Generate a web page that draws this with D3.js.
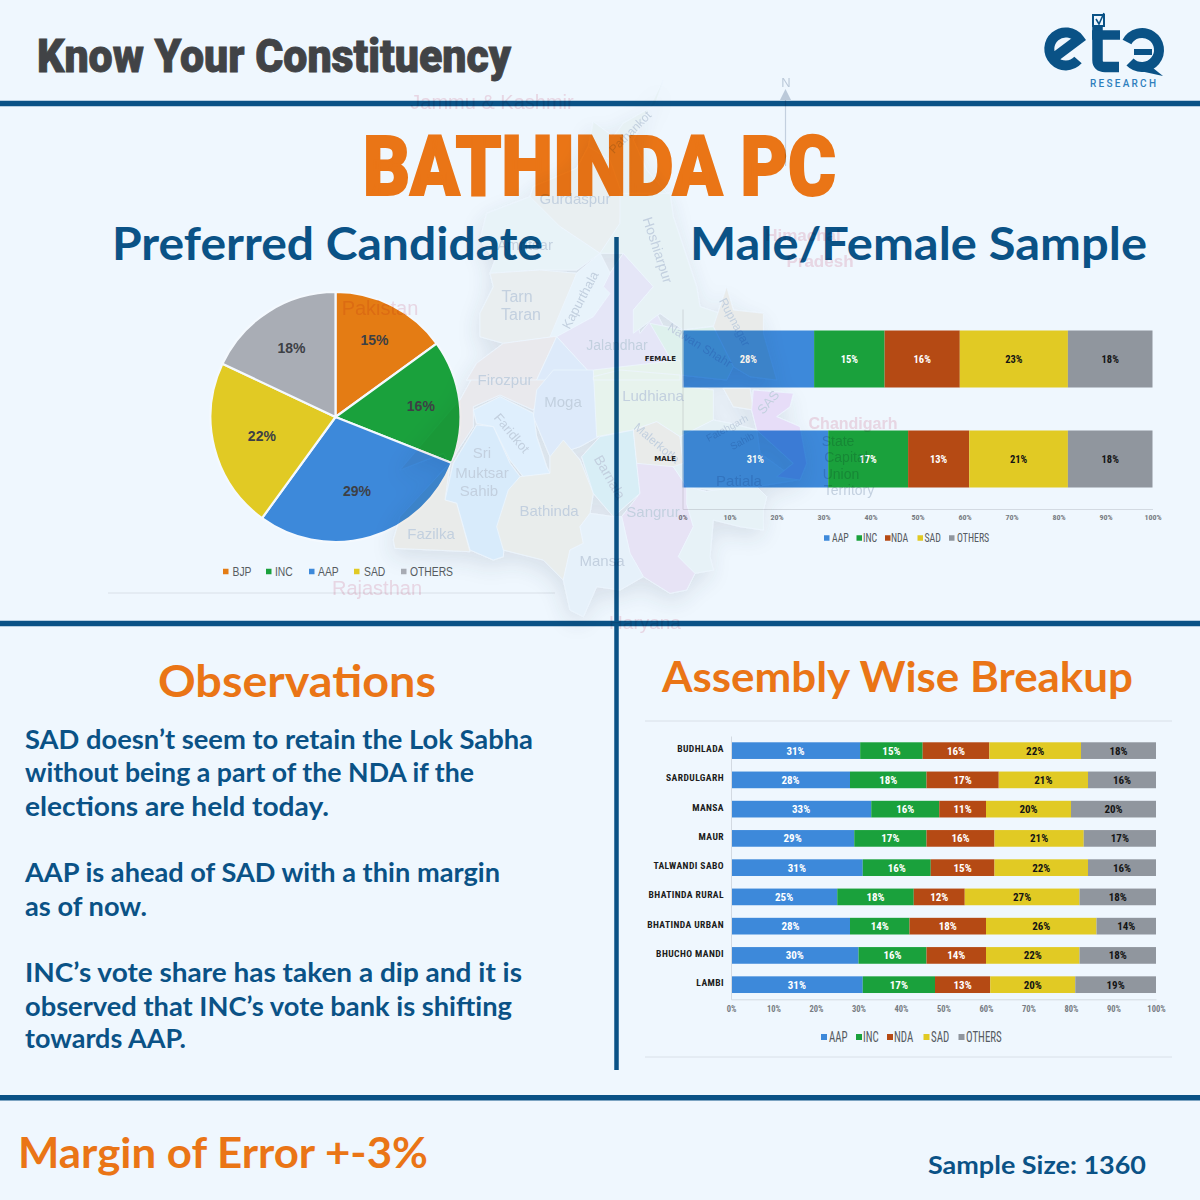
<!DOCTYPE html>
<html>
<head>
<meta charset="utf-8">
<script src="https://cdn.jsdelivr.net/npm/d3@7"></script>
<style>
html,body{margin:0;padding:0;background:#eff7fe;}
svg{display:block;}
</style>
</head>
<body>
<div id="chart"></div>
<script>
// ---- data ----
const pieParties = ["BJP","INC","AAP","SAD","OTHERS"];
const pieValues = [15,16,29,22,18];
const barParties = ["AAP","INC","NDA","SAD","OTHERS"];
const genderLabels = ["FEMALE","MALE"];
const genderAAP = [28,31];
const genderINC = [15,17];
const genderNDA = [16,13];
const genderSAD = [23,21];
const genderOTHERS = [18,18];
const assemblyLabels = ["BUDHLADA","SARDULGARH","MANSA","MAUR","TALWANDI SABO","BHATINDA RURAL","BHATINDA URBAN","BHUCHO MANDI","LAMBI"];
const assemblyAAP = [31,28,33,29,31,25,28,30,31];
const assemblyINC = [15,18,16,17,16,18,14,16,17];
const assemblyNDA = [16,17,11,16,15,12,18,14,13];
const assemblySAD = [22,21,20,21,22,27,26,22,20];
const assemblyOTHERS = [18,16,20,17,16,18,14,18,19];
const percentTicks = [0,.1,.2,.3,.4,.5,.6,.7,.8,.9,1];
const observationLines = [
 "SAD doesn’t seem to retain the Lok Sabha","without being a part of the NDA if the","elections are held today.",
 "AAP is ahead of SAD with a thin margin","as of now.",
 "INC’s vote share has taken a dip and it is","observed that INC’s vote bank is shifting","towards AAP."];

// ---- styling ----
const BLUE="#0a5286", ORANGE="#ea7516";
const colors={BJP:"#e47c14",INC:"#1aa13c",AAP:"#3d89da",NDA:"#b54a14",SAD:"#e1ca24",OTHERS:"#90969e"};
const pieColors={...colors,OTHERS:"#a9adb5"};
const NARROW="'Liberation Sans Narrow','Roboto Condensed','Liberation Sans',sans-serif";
const HEAD="Lato,'Open Sans',sans-serif";

const svg=d3.select("#chart").append("svg").attr("width",1200).attr("height",1200).attr("viewBox","0 0 1200 1200");
svg.append("rect").attr("width",1200).attr("height",1200).attr("fill","#eff7fe");
const defs=svg.append("defs");
const f=defs.append("filter").attr("id","shadow").attr("x","-20%").attr("y","-20%").attr("width","140%").attr("height","140%");
f.append("feDropShadow").attr("dx",-2).attr("dy",8).attr("stdDeviation",11).attr("flood-color","#3a4658").attr("flood-opacity",.2);

function label(g,txt,x0,x1,y,size,fill,family,weight){
  return g.append("text").attr("x",x0).attr("y",y).attr("textLength",x1-x0).attr("lengthAdjust","spacingAndGlyphs")
    .attr("font-family",family).attr("font-size",size).attr("font-weight",weight).attr("fill",fill).text(txt);
}

// ---- header, headings, rules ----
const txt=svg.append("g");
label(txt,"Know Your Constituency",37,511,72,46,"#414346","Roboto,sans-serif",900).attr("stroke","#414346").attr("stroke-width",.9);
label(txt,"BATHINDA PC",363,836,195,84,ORANGE,"Roboto,sans-serif",900).attr("stroke",ORANGE).attr("stroke-width",2);
label(txt,"Preferred Candidate",112,543,260,46,BLUE,HEAD,700);
label(txt,"Male/Female Sample",690,1147,260,46,BLUE,HEAD,700);
label(txt,"Observations",158,436,697,44,ORANGE,HEAD,700);
label(txt,"Assembly Wise Breakup",662,1133,692,42,ORANGE,HEAD,700);
label(txt,"Margin of Error +-3%",18,428,1168,42,ORANGE,HEAD,700);
label(txt,"Sample Size: 1360",928,1146,1174,25,BLUE,HEAD,700);

const obsX1=[533,474,329,500,147,522,512,186], obsY=[749,782,816,882,916,982,1016,1048];
observationLines.forEach((l,i)=>label(txt,l,25,obsX1[i],obsY[i],26,BLUE,HEAD,700));

const rules=svg.append("g").attr("stroke",BLUE);
[[0,103.5,1200,103.5,5.5],[0,623.5,1200,623.5,5.5],[0,1097.8,1200,1097.8,5.5],[616.5,237,616.5,1070,4.5]]
 .forEach(r=>rules.append("line").attr("x1",r[0]).attr("y1",r[1]).attr("x2",r[2]).attr("y2",r[3]).attr("stroke-width",r[4]));
const hair=svg.append("g").attr("stroke","#d9e0e8").attr("stroke-width",1);
[[108,593,555,593],[645,721,1172,721],[645,1057,1172,1057]].forEach(r=>hair.append("line").attr("x1",r[0]).attr("y1",r[1]).attr("x2",r[2]).attr("y2",r[3]));

// ---- logo ----
const logo=svg.append("g").attr("fill","none").attr("stroke",BLUE);
logo.append("path").attr("d","M1051,60 L1079,39 A16.5,16.5 0 1 0 1078,60").attr("stroke-width",10);
logo.append("path").attr("d","M1097.5,27 V60 Q1097.5,67 1105,67 H1119").attr("stroke-width",10.5);
logo.append("path").attr("d","M1092,35 H1120").attr("stroke-width",9.5);
logo.append("path").attr("d","M1127,42 A17,17 0 1 1 1130,62").attr("stroke-width",10);
logo.append("path").attr("d","M1134,52 H1152").attr("stroke-width",6);
svg.append("path").attr("d","M1148,64 L1163,76 L1140,71 Z").attr("fill",BLUE);
logo.append("rect").attr("x",1093).attr("y",15).attr("width",11).attr("height",11).attr("stroke-width",2);
logo.append("path").attr("d","M1096,19 L1099,24 L1104,13").attr("stroke-width",1.6);
svg.append("text").attr("x",1090).attr("y",87).attr("textLength",66).attr("font-family","Roboto,sans-serif").attr("font-size",10).attr("font-weight",500).attr("fill","#2f7fbd").text("RESEARCH");

// ---- pie ----
const cx=335.5, cy=417, R=125;
const pieData=d3.pie().sort(null)(pieValues);
const arc=d3.arc().innerRadius(0).outerRadius(R);
const labelRadius=[86,86,77,76,82];
const pieG=svg.append("g").attr("transform",`translate(${cx},${cy})`);
pieG.selectAll("path").data(pieData).join("path").attr("d",arc)
  .attr("fill",(d,i)=>pieColors[pieParties[i]]).attr("stroke","#f4f9fe").attr("stroke-width",2.2);
pieG.selectAll("text").data(pieData).join("text")
  .attr("transform",(d,i)=>`translate(${d3.arc().innerRadius(labelRadius[i]).outerRadius(labelRadius[i]).centroid(d)})`)
  .attr("text-anchor","middle").attr("dy","0.36em")
  .attr("font-family","'Liberation Sans',sans-serif").attr("font-weight",700).attr("font-size",14).attr("fill","#3d4045")
  .text(d=>d.value+"%");

function legend(parties,colorMap,sqX,txtX,y,sq,size,family,k){
  const g=svg.append("g");
  parties.forEach((p,i)=>{
    g.append("rect").attr("x",sqX[i]).attr("y",y-sq/2).attr("width",sq).attr("height",sq).attr("fill",colorMap[p]);
    const t=g.append("text").attr("x",txtX[i]).attr("y",y).attr("dy","0.36em").attr("font-family",family).attr("font-size",size).attr("fill","#565b61").text(p);
    t.attr("lengthAdjust","spacingAndGlyphs").attr("textLength",t.node().getComputedTextLength()*k);
  });
}
legend(pieParties,pieColors,[223,266,309,354,401],[232.5,275,318,364,410],571.5,5.5,12,"'Liberation Sans',sans-serif",.86);

// ---- stacked 100% bars ----
function stackedChart(o){
  const rows=o.labels.map((c,i)=>({c,AAP:o.s[0][i],INC:o.s[1][i],NDA:o.s[2][i],SAD:o.s[3][i],OTHERS:o.s[4][i]}));
  const series=d3.stack().keys(barParties).offset(d3.stackOffsetExpand)(rows);
  const x=d3.scaleLinear().domain([0,1]).range([o.x0,o.x1]);
  const y=d3.scaleBand().domain(o.labels).range([o.y0,o.y1]).paddingInner(.43).paddingOuter(.215);
  const g=svg.append("g");
  g.append("g").selectAll("g").data(series).join("g").attr("fill",d=>colors[d.key])
    .selectAll("rect").data(d=>d).join("rect")
    .attr("x",d=>x(d[0])).attr("width",d=>x(d[1])-x(d[0])).attr("y",d=>y(d.data.c)).attr("height",y.bandwidth());
  g.append("g").selectAll("g").data(series).join("g")
    .attr("fill",d=>(d.key==="SAD"||d.key==="OTHERS")?"#141414":"#ffffff")
    .selectAll("text").data(d=>d.map(v=>Object.assign(v,{key:d.key}))).join("text")
    .attr("x",d=>(x(d[0])+x(d[1]))/2).attr("y",d=>y(d.data.c)+y.bandwidth()/2).attr("dy","0.36em")
    .attr("text-anchor","middle").attr("font-family",NARROW).attr("font-weight",700).attr("font-size",o.valSize)
    .text(d=>d.data[d.key]+"%");
  const ax=g.append("g").attr("transform",`translate(0,${o.y1})`)
    .call(d3.axisBottom(x).tickValues(percentTicks).tickFormat(d3.format(".0%")).tickSize(0).tickPadding(o.tickPad));
  ax.select(".domain").attr("stroke","#d3dae2");
  ax.selectAll("text").attr("font-family",NARROW).attr("font-weight",700).attr("font-size",o.tickSize).attr("fill","#777c82");
  const ay=g.append("g").attr("transform",`translate(${o.x0},0)`).call(d3.axisLeft(y).tickSize(0).tickPadding(o.catPad));
  ay.select(".domain").attr("stroke","#d3dae2");
  ay.selectAll("text").attr("font-family",o.catFont).attr("font-weight",700).attr("font-size",o.catSize).attr("fill","#1c1c20").attr("letter-spacing",o.catLS).attr("dy",o.catDy);
}
stackedChart({labels:genderLabels,s:[genderAAP,genderINC,genderNDA,genderSAD,genderOTHERS],x0:682.5,x1:1152.5,y0:309,y1:509,valSize:10.5,tickSize:8,tickPad:5.5,catPad:6.5,catSize:7,catFont:"'DejaVu Sans',sans-serif",catLS:0,catDy:"0.32em"});
legend(barParties,colors,[824,856.5,885,917.5,949],[832,863,891,924.5,957],538,5.5,12,NARROW,.82);
stackedChart({labels:assemblyLabels,s:[assemblyAAP,assemblyINC,assemblyNDA,assemblySAD,assemblyOTHERS],x0:731,x1:1156,y0:736,y1:999.3,valSize:11,tickSize:8.5,tickPad:7,catPad:7,catSize:9.6,catFont:NARROW,catLS:.4,catDy:"0.15em"});
legend(barParties,colors,[821,856,887,923.5,958.5],[829,863,894,931,966],1037,6,14,NARROW,.78);

// ---- faint map watermark, laid over everything ----
const Z6=p=>[380+p[0]/3,80+p[1]/3], Z7=p=>[380+p[0]/3,370+p[1]/3];
const regions=[
 {c:"#f3f6ef",z:Z6,p:[[850,0],[825,75],[730,130],[700,170],[640,125],[625,200],[590,265],[460,320],[450,350],[720,350],[870,350],[800,270],[760,180]]},
 {c:"#f6f2ea",z:Z6,p:[[625,200],[590,265],[460,320],[450,350],[480,400],[540,440],[600,480],[660,520],[720,430],[725,340],[690,240]]},
 {c:"#f4f8f6",z:Z6,p:[[320,400],[450,350],[540,440],[660,520],[590,570],[480,570],[330,580],[345,540],[300,480]]},
 {c:"#f5f0e8",z:Z6,p:[[330,580],[480,570],[590,580],[520,770],[370,790],[300,770],[300,700],[340,620]]},
 {c:"#f4f8fb",z:Z6,p:[[590,580],[660,520],[690,580],[670,620],[690,640],[640,710],[530,770],[510,770]]},
 {c:"#efe4f4",z:Z6,p:[[730,520],[820,620],[760,690],[780,760],[830,700],[870,780],[900,885],[720,870],[640,890],[530,770],[640,710],[690,640],[670,620],[690,580]]},
 {c:"#f3f7f1",z:Z6,p:[[720,340],[870,340],[880,410],[950,620],[960,680],[1020,700],[1060,730],[910,750],[840,700],[760,760],[760,690],[820,620],[730,520],[660,520],[720,430]]},
 {c:"#f5ecdf",z:Z6,p:[[1040,620],[1060,690],[1150,700],[1150,760],[1190,900],[1110,890],[1060,860],[1000,740]]},
 {c:"#e3f5e4",z:Z6,p:[[810,730],[910,750],[1000,740],[1060,860],[1040,900],[900,885]]},
 {c:"#f6e8e4",z:Z7,p:[[240,90],[290,0],[520,0],[460,120],[360,75],[280,110],[280,170],[240,230],[210,280],[190,250],[60,300],[230,100]]},
 {c:"#f6e8e4",z:Z6,p:[[290,850],[370,790],[520,770],[530,770],[470,900],[260,900]]},
 {c:"#e0ebf8",z:Z6,p:[[530,770],[640,890],[640,900],[470,900]]},
 {c:"#e0ebf8",z:Z7,p:[[470,60],[520,0],[640,0],[655,200],[600,230],[510,260],[460,140]]},
 {c:"#f3f9e4",z:Z7,p:[[640,0],[900,-30],[910,50],[1000,60],[1000,150],[900,200],[830,155],[760,180],[650,200]]},
 {c:"#f3f9e4",z:Z6,p:[[640,890],[720,870],[900,885],[900,900],[640,900]]},
 {c:"#e4f3fd",z:Z7,p:[[280,120],[360,80],[460,130],[470,200],[500,290],[510,310],[430,320],[390,270],[340,170],[290,160]]},
 {c:"#d9ecfb",z:Z7,p:[[290,165],[340,170],[390,280],[420,320],[380,380],[370,560],[340,570],[270,540],[230,400],[195,390],[220,280]]},
 {c:"#f5ecdf",z:Z7,p:[[210,280],[195,390],[230,400],[270,545],[45,535],[40,510],[60,440],[200,290]]},
 {c:"#f5efe2",z:Z7,p:[[510,260],[550,210],[600,270],[640,370],[630,430],[600,470],[610,520],[570,540],[550,630],[490,570],[370,540],[350,470],[385,360],[420,320],[510,310]]},
 {c:"#d8f0f3",z:Z7,p:[[605,260],[660,200],[760,180],[780,370],[700,440],[640,370]]},
 {c:"#f6ecdf",z:Z7,p:[[760,180],[830,155],[900,200],[910,280],[880,300],[770,280]]},
 {c:"#f2dff0",z:Z7,p:[[770,280],[880,290],[920,350],[980,365],[920,400],[940,470],[895,560],[945,610],[920,660],[870,670],[790,620],[750,550],[725,440],[780,370]]},
 {c:"#f1f5f9",z:Z7,p:[[630,430],[700,440],[725,440],[750,550],[790,620],[720,660],[650,650],[610,740],[570,720],[550,630],[570,540],[610,520],[600,470]]},
 {c:"#f2f7f4",z:Z7,p:[[920,350],[980,365],[1000,360],[1130,350],[1160,380],[1150,420],[1150,480],[1080,470],[1000,450],[990,560],[1000,600],[945,610],[895,560],[940,470],[920,400]]},
 {c:"#edf4f0",z:Z7,p:[[900,200],[1000,150],[1050,160],[1130,180],[1140,250],[1250,330],[1130,350],[1000,360],[920,350],[880,290],[910,280]]},
 {c:"#f6ecdf",z:Z7,p:[[1030,55],[1110,55],[1120,120],[1060,110]]},
 {c:"#f2d5f6",z:Z7,p:[[1120,60],[1240,70],[1230,110],[1190,140],[1260,170],[1280,280],[1260,330],[1190,320],[1240,280],[1130,180],[1115,120]]}
];
const mapG=svg.append("g").style("mix-blend-mode","multiply");
const shapes=mapG.append("g").attr("filter","url(#shadow)").attr("opacity",.62);
const poly=d3.line().curve(d3.curveLinearClosed);
shapes.selectAll("path").data(regions).join("path")
  .attr("d",d=>poly(d.p.map(d.z))).attr("fill",d=>d.c).attr("stroke","#fbfdff").attr("stroke-width",.8);
const GREY="#d0d7e0", PINK="#f7dde4";
const mapLabels=[
 ["Jammu & Kashmir",492,102,20,PINK,0,400],["Pathankot",630,132,12,GREY,-45],["Gurdaspur",575,199,15,GREY,0],["Hoshiarpur",658,250,14,GREY,72],
 ["Amritsar",525,245,15,GREY,0],["Tarn",517,296,16,GREY,0],["Taran",521,314,16,GREY,0],["Kapurthala",580,300,13,GREY,-62],["Jalandhar",617,345,14,GREY,0],
 ["Nawan Shahr",700,345,12,GREY,32],["Rupnagar",735,322,12,GREY,62],["Firozpur",505,380,15,GREY,0],["Moga",563,402,15,GREY,0],["Ludhiana",653,396,15,GREY,0],
 ["Faridkot",512,433,13,GREY,50],["Sri",482,453,15,GREY,0],["Muktsar",482,473,15,GREY,0],["Sahib",479,491,15,GREY,0],["Bathinda",549,511,15,GREY,0],
 ["Fazilka",431,534,15,GREY,0],["Mansa",602,561,15,GREY,0],["Barnala",610,477,14,GREY,60],["Sangrur",653,512,15,GREY,0],["Patiala",739,481,15,GREY,0],
 ["Malerkotla",657,443,12,GREY,40],["Fatehgarh",727,428,10,GREY,-28],["Sahib",742,441,10,GREY,-28],["SAS",768,402,13,GREY,-50],
 ["Chandigarh",853,423,16,PINK,0,600],["State",838,441,14,GREY,0],["Capital",846,457,14,GREY,0],["Union",841,474,14,GREY,0],["Territory",849,490,14,GREY,0],
 ["Himachal",803,235,17,PINK,0,600],["Pradesh",820,261,17,PINK,0,600],["Pakistan",380,308,20,PINK,0,400],["Rajasthan",377,588,20,PINK,0,400],["Haryana",645,622,19,PINK,0,400]
];
mapG.append("g").selectAll("text").data(mapLabels).join("text")
  .attr("transform",d=>`translate(${d[1]},${d[2]}) rotate(${d[5]})`).attr("text-anchor","middle").attr("dy","0.36em")
  .attr("font-family","'Liberation Sans',sans-serif").attr("font-size",d=>d[3]).attr("fill",d=>d[4]).attr("font-weight",d=>d[6]||400).text(d=>d[0]);
const north=mapG.append("g");
north.append("text").attr("x",786).attr("y",87).attr("text-anchor","middle").attr("font-family","'Liberation Sans',sans-serif").attr("font-size",13).attr("fill","#c8d0da").text("N");
north.append("path").attr("d","M780,100 L785.5,89 L791,100 Z").attr("fill","#c8d0da");
north.append("line").attr("x1",785.5).attr("x2",785.5).attr("y1",100).attr("y2",166).attr("stroke","#d0d7e0").attr("stroke-width",1.2);
</script>
</body>
</html>
